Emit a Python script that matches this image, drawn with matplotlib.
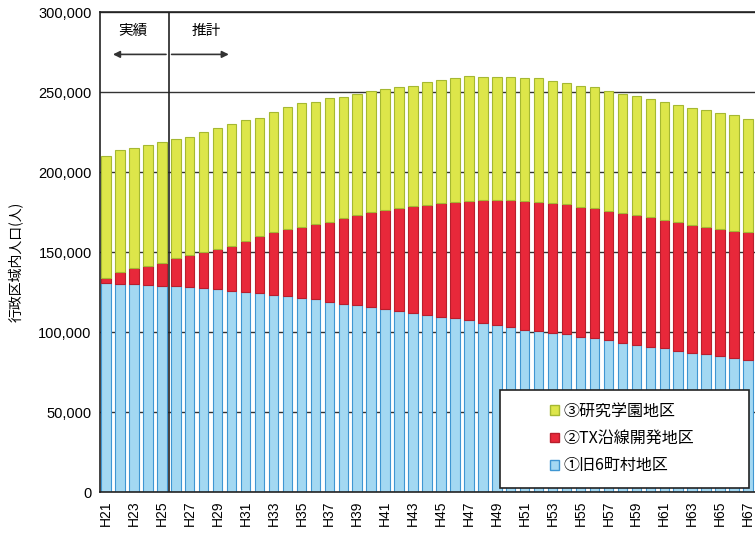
import numpy as np
import matplotlib.pyplot as plt
from matplotlib.patches import Patch, Rectangle

plt.rcParams['font.family'] = ['Noto Sans CJK JP', 'DejaVu Sans']

years = ["H%d" % y for y in range(21, 68)]

# (1) former 6 towns/villages
old_towns = [130600, 130000, 130000, 129400, 128700, 128700, 128000, 127500, 126900, 125600,
             125000, 124400, 123000, 122500, 121000, 120600, 118700, 117500, 116900, 115600,
             114400, 113000, 111900, 110600, 109400, 108700, 107500, 105600, 104400, 103000,
             101000, 100600, 99400, 98700, 97000, 96000, 95000, 93000, 92000, 90600,
             90000, 88000, 87000, 86000, 85000, 83700, 82500]
# (2) TX line development area
tx_area = [3100, 7500, 10000, 11600, 14300, 17300, 20000, 22500, 25100, 28400,
           32000, 35600, 39500, 41900, 44600, 46900, 50300, 53500, 56100, 59400,
           61600, 64500, 67100, 68800, 71200, 72300, 74500, 76900, 78100, 79500,
           81000, 80400, 81200, 81300, 81000, 81500, 80600, 81400, 81000, 81400,
           80000, 80700, 79900, 79600, 79400, 79300, 80000]
# (3) research / academic area
research = [76300, 76200, 75000, 75900, 75700, 74600, 74000, 75000, 75500, 76000,
            75500, 74000, 75000, 76200, 77400, 76500, 77000, 76000, 76000, 75600,
            76000, 75500, 75000, 76600, 76900, 77700, 78000, 76900, 76900, 76900,
            77000, 77700, 76400, 75600, 76000, 75500, 75000, 74600, 74500, 73600,
            74000, 73300, 73100, 73100, 72600, 72600, 70500]

labels = ["①旧6町村地区", "②TX沿線開発地区", "③研究学園地区"]
fills = ["#a3d8f2", "#e8283a", "#dde64a"]
edges = ["#3f96d2", "#b81e2c", "#a5b832"]

fig = plt.figure(figsize=(7.55, 5.33), dpi=100)
ax = fig.add_axes([100 / 755, 1 - 492 / 533, 655 / 755, 480 / 533])

x = np.arange(len(years))
bottom = np.zeros(len(years))
for vals, fc, ec in zip([old_towns, tx_area, research], fills, edges):
    ax.bar(x, vals, width=0.68, bottom=bottom, color=fc, edgecolor=ec,
           linewidth=0.8, zorder=2)
    bottom += np.array(vals)

ax.set_ylim(0, 300000)
ax.set_xlim(-0.43, 46.5)
ax.set_yticks(np.arange(0, 300001, 50000))
ax.yaxis.grid(True, color="#333333", linewidth=1.0, zorder=0)
ax.set_axisbelow(True)
ax.set_xticks(x[::2])
ax.set_xticklabels(years[::2], rotation=90, family="Liberation Sans", fontsize=10)
ax.yaxis.set_major_formatter(plt.FuncFormatter(lambda v, p: "{:,}".format(int(v))))
for t in ax.get_yticklabels():
    t.set_family("Liberation Sans")
    t.set_fontsize(10.5)
ax.tick_params(length=0, pad=6)
ax.spines["right"].set_visible(False)
for s in ["left", "bottom", "top"]:
    ax.spines[s].set_color("#222222")
    ax.spines[s].set_linewidth(1.2)

# actual / estimated divider
ax.axvline(4.5, color="#222222", linewidth=1.2, zorder=3)
ax.text(1.9, 288000, "実績", ha="center", va="center", fontsize=10.5)
ax.text(7.2, 288000, "推計", ha="center", va="center", fontsize=10.5)
ax.annotate("", xy=(0.3, 273500), xytext=(4.5, 273500),
            arrowprops=dict(arrowstyle="-|>", color="#333333", lw=1.2,
                            mutation_scale=10))
ax.annotate("", xy=(9.0, 273500), xytext=(4.5, 273500),
            arrowprops=dict(arrowstyle="-|>", color="#333333", lw=1.2,
                            mutation_scale=10))

# legend box
ax.add_patch(Rectangle((0.611, 0.008), 0.38, 0.205, transform=ax.transAxes,
                       facecolor="white", edgecolor="#222222", linewidth=1.2,
                       zorder=4))
handles = [Patch(facecolor=fills[i], edgecolor=edges[i]) for i in [2, 1, 0]]
leg = ax.legend(handles, [labels[i] for i in [2, 1, 0]], loc="upper left",
                bbox_to_anchor=(0.665, 0.216), frameon=False, fontsize=11.5,
                handlelength=0.55, handleheight=0.55, handletextpad=0.3,
                labelspacing=0.65)
leg.set_zorder(5)

fig.text(15 / 755, 1 - 262 / 533, "行政区域内人口(人)", rotation=90,
         ha="center", va="center", fontsize=10)

fig.savefig("out.png", dpi=100)
